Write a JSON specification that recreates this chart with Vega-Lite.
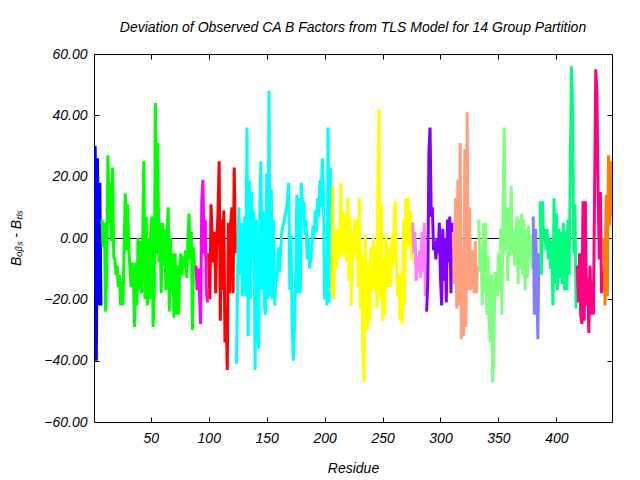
{
"$schema": "https://vega.github.io/schema/vega-lite/v6.json",
"width": 518, "height": 368,
"autosize": {"type": "none"},
"padding": {"left": 94, "top": 54, "right": 28, "bottom": 58},
"background": "white",
"config": {"view": {"stroke": "black", "strokeWidth": 1}, "font": "Liberation Sans"},
"title": {"text": "Deviation of Observed CA B Factors from TLS Model for 14 Group Partition", "fontSize": 14, "fontStyle": "italic", "fontWeight": "normal", "font": "Liberation Sans", "color": "black", "offset": 12},
"datasets": {"d": [
{"r":1,"v":7,"g":"g01"},{"r":2,"v":30,"g":"g01"},{"r":3,"v":-40,"g":"g01"},{"r":4,"v":26,"g":"g01"},{"r":5,"v":-22,"g":"g01"},{"r":6,"v":18,"g":"g01"},{"r":7,"v":-22,"g":"g01"},
{"r":8,"v":6,"g":"g02"},{"r":9,"v":-3,"g":"g02"},{"r":10,"v":5,"g":"g02"},{"r":11,"v":-24,"g":"g02"},{"r":12,"v":-10,"g":"g02"},{"r":13,"v":27,"g":"g02"},{"r":14,"v":5,"g":"g02"},{"r":15,"v":18,"g":"g02"},{"r":16,"v":-1,"g":"g02"},{"r":17,"v":23,"g":"g02"},{"r":18,"v":-6,"g":"g02"},{"r":19,"v":-7,"g":"g02"},{"r":20,"v":-12,"g":"g02"},{"r":21,"v":-9,"g":"g02"},{"r":22,"v":-16,"g":"g02"},{"r":23,"v":-12,"g":"g02"},{"r":24,"v":-22,"g":"g02"},{"r":25,"v":-14,"g":"g02"},{"r":26,"v":-22,"g":"g02"},{"r":27,"v":-3,"g":"g02"},{"r":28,"v":14.5,"g":"g02"},{"r":29,"v":-4,"g":"g02"},{"r":30,"v":11,"g":"g02"},{"r":31,"v":-3,"g":"g02"},{"r":32,"v":-10,"g":"g02"},{"r":33,"v":-16,"g":"g02"},{"r":34,"v":-8,"g":"g02"},{"r":35,"v":-13,"g":"g02"},{"r":36,"v":-29,"g":"g02"},{"r":37,"v":-8,"g":"g02"},{"r":38,"v":-22,"g":"g02"},{"r":39,"v":0,"g":"g02"},{"r":40,"v":-17,"g":"g02"},{"r":41,"v":-1,"g":"g02"},{"r":42,"v":-18,"g":"g02"},{"r":43,"v":-2,"g":"g02"},{"r":44,"v":25,"g":"g02"},{"r":45,"v":-20,"g":"g02"},{"r":46,"v":7,"g":"g02"},{"r":47,"v":-22,"g":"g02"},{"r":48,"v":0,"g":"g02"},{"r":49,"v":-20,"g":"g02"},{"r":50,"v":3,"g":"g02"},{"r":51,"v":7,"g":"g02"},{"r":52,"v":-29,"g":"g02"},{"r":53,"v":-18,"g":"g02"},{"r":54,"v":44,"g":"g02"},{"r":55,"v":-5,"g":"g02"},{"r":56,"v":31,"g":"g02"},{"r":57,"v":-8,"g":"g02"},{"r":58,"v":5,"g":"g02"},{"r":59,"v":-18,"g":"g02"},{"r":60,"v":5,"g":"g02"},{"r":61,"v":-9,"g":"g02"},{"r":62,"v":3,"g":"g02"},{"r":63,"v":-17,"g":"g02"},{"r":64,"v":0,"g":"g02"},{"r":65,"v":10,"g":"g02"},{"r":66,"v":-24,"g":"g02"},{"r":67,"v":0,"g":"g02"},{"r":68,"v":-18,"g":"g02"},{"r":69,"v":-5,"g":"g02"},{"r":70,"v":-26,"g":"g02"},{"r":71,"v":-5,"g":"g02"},{"r":72,"v":-25,"g":"g02"},{"r":73,"v":-9,"g":"g02"},{"r":74,"v":-25,"g":"g02"},{"r":75,"v":-10,"g":"g02"},{"r":76,"v":-5,"g":"g02"},{"r":77,"v":-12,"g":"g02"},{"r":78,"v":-6,"g":"g02"},{"r":79,"v":-10,"g":"g02"},{"r":80,"v":-4,"g":"g02"},{"r":81,"v":-13,"g":"g02"},{"r":82,"v":-1,"g":"g02"},{"r":83,"v":8,"g":"g02"},{"r":84,"v":-7,"g":"g02"},{"r":85,"v":2,"g":"g02"},{"r":86,"v":-30,"g":"g02"},{"r":87,"v":-3,"g":"g02"},{"r":88,"v":-12,"g":"g02"},
{"r":89,"v":-9,"g":"g03"},{"r":90,"v":-17,"g":"g03"},{"r":91,"v":-10,"g":"g03"},{"r":92,"v":-18,"g":"g03"},{"r":93,"v":-28,"g":"g03"},{"r":94,"v":12,"g":"g03"},{"r":95,"v":19,"g":"g03"},{"r":96,"v":-5,"g":"g03"},{"r":97,"v":6,"g":"g03"},{"r":98,"v":-18,"g":"g03"},{"r":99,"v":-21,"g":"g03"},
{"r":100,"v":-5,"g":"g04"},{"r":101,"v":-20,"g":"g04"},{"r":102,"v":11,"g":"g04"},{"r":103,"v":0,"g":"g04"},{"r":104,"v":-8,"g":"g04"},{"r":105,"v":2,"g":"g04"},{"r":106,"v":-18,"g":"g04"},{"r":107,"v":0,"g":"g04"},{"r":108,"v":8,"g":"g04"},{"r":109,"v":25,"g":"g04"},{"r":110,"v":-27,"g":"g04"},{"r":111,"v":6,"g":"g04"},{"r":112,"v":-17,"g":"g04"},{"r":113,"v":9,"g":"g04"},{"r":114,"v":-34,"g":"g04"},{"r":115,"v":-23,"g":"g04"},{"r":116,"v":-43,"g":"g04"},{"r":117,"v":5,"g":"g04"},{"r":118,"v":-18,"g":"g04"},{"r":119,"v":5,"g":"g04"},{"r":120,"v":10,"g":"g04"},{"r":121,"v":-18,"g":"g04"},{"r":122,"v":23,"g":"g04"},{"r":123,"v":-5,"g":"g04"},
{"r":124,"v":-41,"g":"g05"},{"r":125,"v":-10,"g":"g05"},{"r":126,"v":10,"g":"g05"},{"r":127,"v":-12,"g":"g05"},{"r":128,"v":5,"g":"g05"},{"r":129,"v":-19,"g":"g05"},{"r":130,"v":-13,"g":"g05"},{"r":131,"v":7,"g":"g05"},{"r":132,"v":-19,"g":"g05"},{"r":133,"v":36,"g":"g05"},{"r":134,"v":-32,"g":"g05"},{"r":135,"v":19,"g":"g05"},{"r":136,"v":-20,"g":"g05"},{"r":137,"v":15,"g":"g05"},{"r":138,"v":-7,"g":"g05"},{"r":139,"v":9,"g":"g05"},{"r":140,"v":-43,"g":"g05"},{"r":141,"v":6,"g":"g05"},{"r":142,"v":-18,"g":"g05"},{"r":143,"v":-36,"g":"g05"},{"r":144,"v":7,"g":"g05"},{"r":145,"v":25,"g":"g05"},{"r":146,"v":-17,"g":"g05"},{"r":147,"v":9,"g":"g05"},{"r":148,"v":-23,"g":"g05"},{"r":149,"v":-25,"g":"g05"},{"r":150,"v":21,"g":"g05"},{"r":151,"v":-20,"g":"g05"},{"r":152,"v":48,"g":"g05"},{"r":153,"v":-19,"g":"g05"},{"r":154,"v":16,"g":"g05"},{"r":155,"v":-20,"g":"g05"},{"r":156,"v":6,"g":"g05"},{"r":157,"v":-22,"g":"g05"},{"r":158,"v":-11,"g":"g05"},{"r":159,"v":-14,"g":"g05"},{"r":160,"v":-3,"g":"g05"},{"r":161,"v":-11,"g":"g05"},{"r":162,"v":-5,"g":"g05"},{"r":163,"v":2,"g":"g05"},{"r":164,"v":4,"g":"g05"},{"r":165,"v":5,"g":"g05"},{"r":166,"v":8,"g":"g05"},{"r":167,"v":9,"g":"g05"},{"r":168,"v":13,"g":"g05"},{"r":169,"v":18,"g":"g05"},{"r":170,"v":-17,"g":"g05"},{"r":171,"v":1,"g":"g05"},{"r":172,"v":-29,"g":"g05"},{"r":173,"v":-40,"g":"g05"},{"r":174,"v":-30,"g":"g05"},{"r":175,"v":-12,"g":"g05"},{"r":176,"v":14,"g":"g05"},{"r":177,"v":-18,"g":"g05"},{"r":178,"v":13,"g":"g05"},{"r":179,"v":-18,"g":"g05"},{"r":180,"v":18,"g":"g05"},{"r":181,"v":10,"g":"g05"},{"r":182,"v":12,"g":"g05"},{"r":183,"v":1,"g":"g05"},{"r":184,"v":6,"g":"g05"},{"r":185,"v":-7,"g":"g05"},{"r":186,"v":0,"g":"g05"},{"r":187,"v":-10,"g":"g05"},{"r":188,"v":-7,"g":"g05"},{"r":189,"v":-3,"g":"g05"},{"r":190,"v":4,"g":"g05"},{"r":191,"v":0,"g":"g05"},{"r":192,"v":9,"g":"g05"},{"r":193,"v":2,"g":"g05"},{"r":194,"v":13,"g":"g05"},{"r":195,"v":7,"g":"g05"},{"r":196,"v":19,"g":"g05"},{"r":197,"v":10,"g":"g05"},{"r":198,"v":26,"g":"g05"},{"r":199,"v":15,"g":"g05"},{"r":200,"v":-20,"g":"g05"},{"r":201,"v":-8,"g":"g05"},{"r":202,"v":-22,"g":"g05"},{"r":203,"v":36,"g":"g05"},{"r":204,"v":-21,"g":"g05"},{"r":205,"v":23,"g":"g05"},
{"r":206,"v":-18,"g":"g06"},{"r":207,"v":17,"g":"g06"},{"r":208,"v":-20,"g":"g06"},{"r":209,"v":2,"g":"g06"},{"r":210,"v":-10,"g":"g06"},{"r":211,"v":3,"g":"g06"},{"r":212,"v":-7,"g":"g06"},{"r":213,"v":0,"g":"g06"},{"r":214,"v":18,"g":"g06"},{"r":215,"v":-6,"g":"g06"},{"r":216,"v":9,"g":"g06"},{"r":217,"v":-5,"g":"g06"},{"r":218,"v":7,"g":"g06"},{"r":219,"v":-8,"g":"g06"},{"r":220,"v":13,"g":"g06"},{"r":221,"v":-14,"g":"g06"},{"r":222,"v":7,"g":"g06"},{"r":223,"v":-22,"g":"g06"},{"r":224,"v":2,"g":"g06"},{"r":225,"v":-7,"g":"g06"},{"r":226,"v":6,"g":"g06"},{"r":227,"v":-5,"g":"g06"},{"r":228,"v":6,"g":"g06"},{"r":229,"v":-16,"g":"g06"},{"r":230,"v":13,"g":"g06"},{"r":231,"v":-23,"g":"g06"},{"r":232,"v":-5,"g":"g06"},{"r":233,"v":-37,"g":"g06"},{"r":234,"v":-47,"g":"g06"},{"r":235,"v":1,"g":"g06"},{"r":236,"v":-14,"g":"g06"},{"r":237,"v":-30,"g":"g06"},{"r":238,"v":-8,"g":"g06"},{"r":239,"v":-27,"g":"g06"},{"r":240,"v":-3,"g":"g06"},{"r":241,"v":-17,"g":"g06"},{"r":242,"v":0,"g":"g06"},{"r":243,"v":-17,"g":"g06"},{"r":244,"v":-3,"g":"g06"},{"r":245,"v":-23,"g":"g06"},{"r":246,"v":17,"g":"g06"},{"r":247,"v":42,"g":"g06"},{"r":248,"v":-20,"g":"g06"},{"r":249,"v":11,"g":"g06"},{"r":250,"v":-27,"g":"g06"},{"r":251,"v":-7,"g":"g06"},{"r":252,"v":-25,"g":"g06"},{"r":253,"v":1,"g":"g06"},{"r":254,"v":-12,"g":"g06"},{"r":255,"v":-16,"g":"g06"},{"r":256,"v":-3,"g":"g06"},{"r":257,"v":-16,"g":"g06"},{"r":258,"v":1,"g":"g06"},{"r":259,"v":-9,"g":"g06"},{"r":260,"v":5,"g":"g06"},{"r":261,"v":12,"g":"g06"},{"r":262,"v":-7,"g":"g06"},{"r":263,"v":-19,"g":"g06"},{"r":264,"v":-12,"g":"g06"},{"r":265,"v":-27,"g":"g06"},{"r":266,"v":-12,"g":"g06"},{"r":267,"v":-28,"g":"g06"},{"r":268,"v":6,"g":"g06"},{"r":269,"v":-22,"g":"g06"},{"r":270,"v":13,"g":"g06"},{"r":271,"v":-3,"g":"g06"},{"r":272,"v":13,"g":"g06"},{"r":273,"v":-3,"g":"g06"},{"r":274,"v":9,"g":"g06"},{"r":275,"v":-7,"g":"g06"},
{"r":276,"v":5,"g":"g07"},{"r":277,"v":-5,"g":"g07"},{"r":278,"v":2,"g":"g07"},{"r":279,"v":-14,"g":"g07"},{"r":280,"v":-6,"g":"g07"},{"r":281,"v":-11,"g":"g07"},{"r":282,"v":-4,"g":"g07"},{"r":283,"v":-13,"g":"g07"},{"r":284,"v":2,"g":"g07"},{"r":285,"v":-11,"g":"g07"},{"r":286,"v":5,"g":"g07"},{"r":287,"v":-19,"g":"g07"},
{"r":288,"v":-24,"g":"g08"},{"r":289,"v":-15,"g":"g08"},{"r":290,"v":28,"g":"g08"},{"r":291,"v":36,"g":"g08"},{"r":292,"v":7,"g":"g08"},{"r":293,"v":10,"g":"g08"},{"r":294,"v":-4,"g":"g08"},{"r":295,"v":-1,"g":"g08"},{"r":296,"v":-7,"g":"g08"},{"r":297,"v":0,"g":"g08"},{"r":298,"v":-5,"g":"g08"},{"r":299,"v":5,"g":"g08"},{"r":300,"v":-13,"g":"g08"},{"r":301,"v":-22,"g":"g08"},{"r":302,"v":3,"g":"g08"},{"r":303,"v":-14,"g":"g08"},{"r":304,"v":0,"g":"g08"},{"r":305,"v":-21,"g":"g08"},{"r":306,"v":6,"g":"g08"},{"r":307,"v":-8,"g":"g08"},{"r":308,"v":7,"g":"g08"},{"r":309,"v":-18,"g":"g08"},{"r":310,"v":5,"g":"g08"},
{"r":311,"v":2,"g":"g09"},{"r":312,"v":-15,"g":"g09"},{"r":313,"v":13,"g":"g09"},{"r":314,"v":-23,"g":"g09"},{"r":315,"v":19,"g":"g09"},{"r":316,"v":-22,"g":"g09"},{"r":317,"v":31,"g":"g09"},{"r":318,"v":-33,"g":"g09"},{"r":319,"v":-3,"g":"g09"},{"r":320,"v":-32,"g":"g09"},{"r":321,"v":29,"g":"g09"},{"r":322,"v":-29,"g":"g09"},{"r":323,"v":41,"g":"g09"},{"r":324,"v":-17,"g":"g09"},{"r":325,"v":10,"g":"g09"},{"r":326,"v":-17,"g":"g09"},{"r":327,"v":-9,"g":"g09"},{"r":328,"v":-4,"g":"g09"},{"r":329,"v":-18,"g":"g09"},{"r":330,"v":-1,"g":"g09"},{"r":331,"v":-18,"g":"g09"},{"r":332,"v":-9,"g":"g09"},
{"r":333,"v":6,"g":"g10"},{"r":334,"v":-11,"g":"g10"},{"r":335,"v":-3,"g":"g10"},{"r":336,"v":-22,"g":"g10"},{"r":337,"v":5,"g":"g10"},{"r":338,"v":-18,"g":"g10"},{"r":339,"v":5,"g":"g10"},{"r":340,"v":-25,"g":"g10"},{"r":341,"v":-6,"g":"g10"},{"r":342,"v":-27,"g":"g10"},{"r":343,"v":-34,"g":"g10"},{"r":344,"v":-12,"g":"g10"},{"r":345,"v":-47,"g":"g10"},{"r":346,"v":-38,"g":"g10"},{"r":347,"v":-11,"g":"g10"},{"r":348,"v":-13,"g":"g10"},{"r":349,"v":-19,"g":"g10"},{"r":350,"v":-5,"g":"g10"},{"r":351,"v":-17,"g":"g10"},{"r":352,"v":3,"g":"g10"},{"r":353,"v":-25,"g":"g10"},{"r":354,"v":10,"g":"g10"},{"r":355,"v":36,"g":"g10"},{"r":356,"v":-4,"g":"g10"},{"r":357,"v":10,"g":"g10"},{"r":358,"v":-14,"g":"g10"},{"r":359,"v":10,"g":"g10"},{"r":360,"v":-6,"g":"g10"},{"r":361,"v":17,"g":"g10"},{"r":362,"v":-5,"g":"g10"},{"r":363,"v":2,"g":"g10"},{"r":364,"v":-9,"g":"g10"},{"r":365,"v":1,"g":"g10"},{"r":366,"v":7,"g":"g10"},{"r":367,"v":-15,"g":"g10"},{"r":368,"v":6,"g":"g10"},{"r":369,"v":-10,"g":"g10"},{"r":370,"v":8,"g":"g10"},{"r":371,"v":-12,"g":"g10"},{"r":372,"v":6,"g":"g10"},{"r":373,"v":-17,"g":"g10"},{"r":374,"v":3,"g":"g10"},{"r":375,"v":-13,"g":"g10"},{"r":376,"v":4,"g":"g10"},{"r":377,"v":-6,"g":"g10"},{"r":378,"v":1,"g":"g10"},{"r":379,"v":-10,"g":"g10"},
{"r":380,"v":7,"g":"g11"},{"r":381,"v":-25,"g":"g11"},{"r":382,"v":3,"g":"g11"},{"r":383,"v":-10,"g":"g11"},{"r":384,"v":-33,"g":"g11"},{"r":385,"v":-5,"g":"g11"},
{"r":386,"v":12,"g":"g12"},{"r":387,"v":-12,"g":"g12"},{"r":388,"v":12,"g":"g12"},{"r":389,"v":-1,"g":"g12"},{"r":390,"v":3,"g":"g12"},{"r":391,"v":-4,"g":"g12"},{"r":392,"v":3,"g":"g12"},{"r":393,"v":-7,"g":"g12"},{"r":394,"v":0,"g":"g12"},{"r":395,"v":-10,"g":"g12"},{"r":396,"v":-1,"g":"g12"},{"r":397,"v":-22,"g":"g12"},{"r":398,"v":13,"g":"g12"},{"r":399,"v":-15,"g":"g12"},{"r":400,"v":8,"g":"g12"},{"r":401,"v":-17,"g":"g12"},{"r":402,"v":3,"g":"g12"},{"r":403,"v":-13,"g":"g12"},{"r":404,"v":2,"g":"g12"},{"r":405,"v":-15,"g":"g12"},{"r":406,"v":5,"g":"g12"},{"r":407,"v":-17,"g":"g12"},{"r":408,"v":2,"g":"g12"},{"r":409,"v":-17,"g":"g12"},{"r":410,"v":6,"g":"g12"},{"r":411,"v":-12,"g":"g12"},{"r":412,"v":22,"g":"g12"},{"r":413,"v":56,"g":"g12"},{"r":414,"v":42,"g":"g12"},{"r":415,"v":-5,"g":"g12"},{"r":416,"v":11,"g":"g12"},{"r":417,"v":-23,"g":"g12"},
{"r":418,"v":-9,"g":"g13"},{"r":419,"v":-21,"g":"g13"},{"r":420,"v":-5,"g":"g13"},{"r":421,"v":-25,"g":"g13"},{"r":422,"v":-28,"g":"g13"},{"r":423,"v":12,"g":"g13"},{"r":424,"v":-27,"g":"g13"},{"r":425,"v":12,"g":"g13"},{"r":426,"v":-22,"g":"g13"},{"r":427,"v":-13,"g":"g13"},{"r":428,"v":-31,"g":"g13"},{"r":429,"v":-9,"g":"g13"},{"r":430,"v":-25,"g":"g13"},{"r":431,"v":-14,"g":"g13"},{"r":432,"v":-25,"g":"g13"},{"r":433,"v":16,"g":"g13"},{"r":434,"v":55,"g":"g13"},{"r":435,"v":47,"g":"g13"},{"r":436,"v":16,"g":"g13"},{"r":437,"v":-7,"g":"g13"},{"r":438,"v":15,"g":"g13"},{"r":439,"v":-18,"g":"g13"},{"r":440,"v":-11,"g":"g13"},
{"r":441,"v":0,"g":"g14"},{"r":442,"v":-22,"g":"g14"},{"r":443,"v":14,"g":"g14"},{"r":444,"v":-19,"g":"g14"},{"r":445,"v":27,"g":"g14"},{"r":446,"v":4,"g":"g14"},{"r":447,"v":25,"g":"g14"},{"r":448,"v":7,"g":"g14"}
]},
"data": {"name": "d"},
"resolve": {"axis": {"x": "independent", "y": "independent"}},
"layer": [
{"mark": {"type": "rule", "color": "black", "strokeWidth": 1, "yOffset": 0.5},
 "encoding": {"y": {"datum": 0, "type": "quantitative", "scale": {"domain": [-60, 60], "nice": false}, "axis": null}}},
{"mark": {"type": "line", "strokeWidth": 3, "strokeJoin": "bevel", "strokeCap": "butt", "clip": true},
 "encoding": {
  "x": {"field": "r", "type": "quantitative", "scale": {"domain": [1, 448], "nice": false, "zero": false},
   "axis": {"values": [50,100,150,200,250,300,350,400], "grid": false, "domain": false, "tickColor": "black", "tickSize": -5, "labelPadding": 14, "labelColor": "black", "labelFont": "Liberation Sans", "labelFontStyle": "italic", "labelFontSize": 14, "title": "Residue", "titleFont": "Liberation Sans", "titleFontStyle": "italic", "titleFontWeight": "normal", "titleFontSize": 14, "titleColor": "black", "titlePadding": 16}},
  "y": {"field": "v", "type": "quantitative", "scale": {"domain": [-60, 60], "nice": false},
   "axis": {"values": [-60,-40,-20,0,20,40,60], "format": ".2f", "grid": false, "domain": false, "tickColor": "black", "tickSize": -5, "labelPadding": 12, "labelColor": "black", "labelFont": "Liberation Sans", "labelFontStyle": "italic", "labelFontSize": 14, "title": "Bₒᵦₛ - Bₜₗₛ", "titleFont": "Liberation Sans", "titleFontStyle": "italic", "titleFontWeight": "normal", "titleFontSize": 14, "titleColor": "black", "titlePadding": 20}},
  "color": {"field": "g", "type": "nominal", "legend": null,
   "scale": {"domain": ["g01","g02","g03","g04","g05","g06","g07","g08","g09","g10","g11","g12","g13","g14"],
    "range": ["#0000ff","#00ff00","#ff00ff","#ff0000","#00ffff","#ffff00","#ff80ff","#8000ff","#ffa080","#80ff80","#8080ff","#00ff80","#ff0080","#ff8000"]}}
 }},
{"mark": {"type": "point", "opacity": 0},
 "encoding": {
  "x": {"field": "r", "type": "quantitative", "scale": {"domain": [1, 448], "nice": false, "zero": false},
   "axis": {"orient": "top", "values": [50,100,150,200,250,300,350,400], "grid": false, "domain": false, "labels": false, "title": null, "tickColor": "black", "tickSize": -5}},
  "y": {"field": "v", "type": "quantitative", "scale": {"domain": [-60, 60], "nice": false},
   "axis": {"orient": "right", "values": [-60,-40,-20,0,20,40,60], "grid": false, "domain": false, "labels": false, "title": null, "tickColor": "black", "tickSize": -5}}
 }}
]
}
